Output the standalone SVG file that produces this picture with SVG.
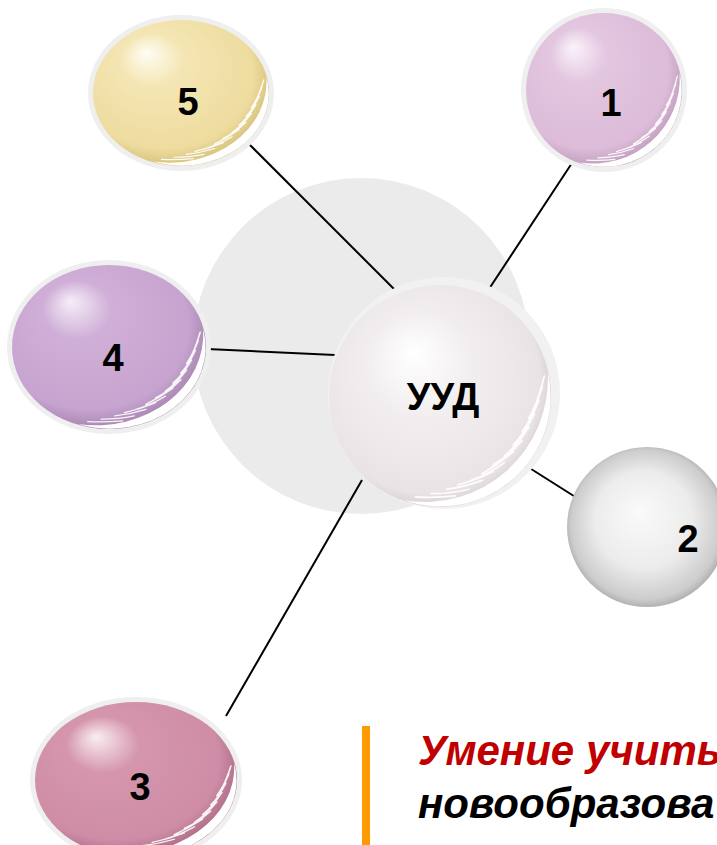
<svg xmlns="http://www.w3.org/2000/svg" width="717" height="845" viewBox="0 0 717 845">
<style>
.lbl{font-family:"Liberation Sans",Arial,sans-serif;font-weight:bold;fill:#000;text-anchor:middle}
.con{stroke:#000;stroke-width:2;fill:none}
.halo{fill:#efefef}
.txt{font-family:"Liberation Sans",Arial,sans-serif;font-weight:bold;font-style:italic;font-size:42px}
.hair{stroke:#ffffff;stroke-width:1.6;fill:none;stroke-linecap:round;opacity:0.9}
</style>
<defs>
<radialGradient id="gY" cx="0.42" cy="0.4" r="0.6" fx="0.3" fy="0.22">
<stop offset="0" stop-color="#fffdf4"/><stop offset="0.3" stop-color="#f4e6b4"/><stop offset="0.85" stop-color="#eedc9f"/><stop offset="1" stop-color="#d6c27c"/>
</radialGradient>
<radialGradient id="gP" cx="0.42" cy="0.4" r="0.6" fx="0.3" fy="0.22">
<stop offset="0" stop-color="#fbf3fa"/><stop offset="0.3" stop-color="#e3c6e0"/><stop offset="0.85" stop-color="#dcbcd9"/><stop offset="1" stop-color="#c19dbd"/>
</radialGradient>
<radialGradient id="gV" cx="0.42" cy="0.4" r="0.6" fx="0.3" fy="0.22">
<stop offset="0" stop-color="#f6eef8"/><stop offset="0.3" stop-color="#cfaed7"/><stop offset="0.85" stop-color="#c7a4cf"/><stop offset="1" stop-color="#a884b1"/>
</radialGradient>
<radialGradient id="gR" cx="0.42" cy="0.4" r="0.6" fx="0.3" fy="0.22">
<stop offset="0" stop-color="#f9eef2"/><stop offset="0.3" stop-color="#d596ad"/><stop offset="0.85" stop-color="#cf8ca6"/><stop offset="1" stop-color="#ac6d86"/>
</radialGradient>
<radialGradient id="gW" cx="0.45" cy="0.45" r="0.6" fx="0.38" fy="0.3">
<stop offset="0" stop-color="#ffffff"/><stop offset="0.4" stop-color="#f2eef0"/><stop offset="0.85" stop-color="#e9e3e6"/><stop offset="1" stop-color="#c9c2c5"/>
</radialGradient>
<radialGradient id="gG" cx="0.5" cy="0.5" r="0.55" fx="0.45" fy="0.4">
<stop offset="0" stop-color="#fafafa"/><stop offset="0.55" stop-color="#ececec"/><stop offset="0.85" stop-color="#cccccc"/><stop offset="1" stop-color="#959595"/>
</radialGradient>
<g id="feather">
<path fill="#ffffff" d="M97,-22 A99,99 0 0 1 -32,94 A111,111 0 0 0 97,-22 Z"/>
<path class="hair" d="M94,-18 Q90,-2 86,8 M92,-8 Q86,10 80,20 M89,4 Q82,22 74,32 M85,16 Q76,34 66,44 M80,28 Q70,44 58,54 M74,40 Q62,54 48,62 M66,50 Q52,62 38,70 M58,60 Q44,70 28,76 M48,68 Q32,76 16,80 M38,76 Q22,82 6,84 M26,84 Q10,88 -8,88 M14,90 Q-4,92 -22,91"/>
</g>
</defs>
<rect width="717" height="845" fill="#ffffff"/>
<circle cx="361" cy="346" r="168" fill="#ebebeb"/>
<g id="connectors">
<line class="con" x1="248" y1="143" x2="395" y2="290"/>
<line class="con" x1="572" y1="163" x2="487" y2="292"/>
<line class="con" x1="207" y1="349" x2="335" y2="355"/>
<line class="con" x1="528" y1="467" x2="577" y2="498"/>
<line class="con" x1="362" y1="480" x2="226" y2="716"/>
</g>
<g id="node-uud">
<circle cx="444" cy="393" r="116" fill="#f1f1f1"/>
<circle cx="440" cy="396" r="111" fill="url(#gW)"/>
<use href="#feather" transform="translate(440,396) scale(1.11)"/>
<text class="lbl" x="443" y="410" font-size="38">УУД</text>
</g>
<g id="node-5">
<ellipse class="halo" cx="181" cy="93" rx="93" ry="78"/>
<ellipse cx="181" cy="93" rx="88" ry="73" fill="url(#gY)"/>
<use href="#feather" transform="translate(181,93) scale(0.88,0.73)"/>
<text class="lbl" x="188" y="115" font-size="38">5</text>
</g>
<g id="node-1">
<ellipse class="halo" cx="604" cy="90" rx="83" ry="82"/>
<ellipse cx="604" cy="90" rx="78" ry="77" fill="url(#gP)"/>
<use href="#feather" transform="translate(604,90) scale(0.78,0.77)"/>
<text class="lbl" x="611" y="116" font-size="38">1</text>
</g>
<g id="node-4">
<ellipse class="halo" cx="109" cy="347" rx="102" ry="87"/>
<ellipse cx="109" cy="347" rx="97" ry="82" fill="url(#gV)"/>
<use href="#feather" transform="translate(109,347) scale(0.97,0.82)"/>
<text class="lbl" x="113" y="371" font-size="38">4</text>
</g>
<g id="node-2">
<circle cx="647" cy="527" r="80" fill="url(#gG)"/>
<text class="lbl" x="688" y="552" font-size="38">2</text>
</g>
<g id="node-3">
<ellipse class="halo" cx="136" cy="780" rx="106" ry="83"/>
<ellipse cx="136" cy="780" rx="101" ry="78" fill="url(#gR)"/>
<use href="#feather" transform="translate(136,780) scale(1.01,0.78)"/>
<text class="lbl" x="140" y="800" font-size="38">3</text>
</g>
<g id="note">
<rect x="362" y="726" width="8" height="119" fill="#ff9900"/>
<text class="txt" x="418" y="765" fill="#c00000">Умение учить</text>
<text class="txt" x="418" y="818" fill="#000000">новообразова</text>
</g>
</svg>
